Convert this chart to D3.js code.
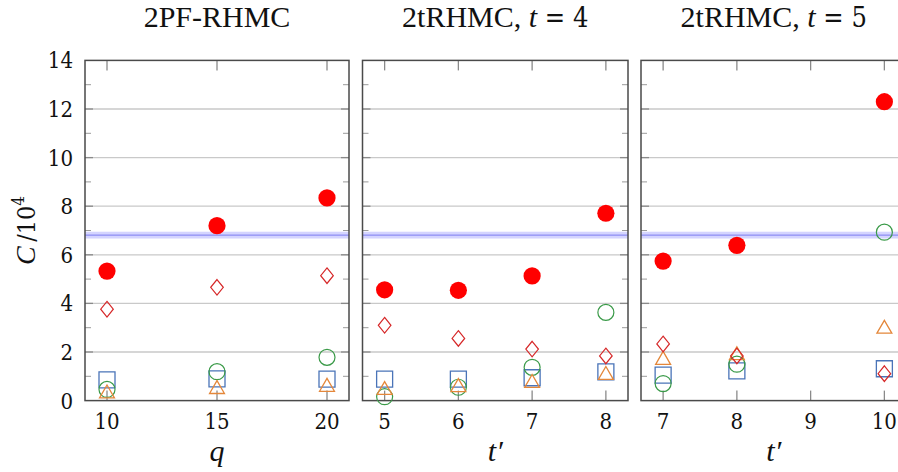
<!DOCTYPE html>
<html>
<head>
<meta charset="utf-8">
<script src="https://cdn.jsdelivr.net/npm/d3@7"></script>
<style>
  html, body { margin: 0; padding: 0; background: #fff; }
  svg { display: block; }
  .tick-label { font-family: 'DejaVu Serif Condensed', 'DejaVu Serif', serif; font-stretch: condensed; font-size: 22px; fill: #111; }
  .title { font-family: 'Liberation Serif', serif; font-size: 30px; fill: #111; }
  .math { font-family: 'DejaVu Serif Condensed', 'DejaVu Serif', serif; font-stretch: condensed; }
  .axis-title { font-family: 'Liberation Serif', serif; font-style: italic; font-size: 30px; fill: #111; }
</style>
</head>
<body>
<svg id="chart" width="898" height="472"></svg>
<script>
// ---- data -------------------------------------------------------------
const panelTitles = ["2PF-RHMC", "2tRHMC, t = 4", "2tRHMC, t = 5"];
const yTicks = [0, 2, 4, 6, 8, 10, 12, 14];

// 2PF-RHMC, as a function of q
const pfX        = [10, 15, 20];
const pfCost     = [5.33, 7.20, 8.34];
const pfDiamond  = [3.76, 4.66, 5.14];
const pfCircle   = [0.46, 1.19, 1.78];
const pfSquare   = [0.85, 0.89, 0.88];
const pfTriangle = [0.29, 0.47, 0.56];
const pfTicks    = [10, 15, 20];

// 2tRHMC with t = 4, as a function of t'
const t4X        = [5, 6, 7, 8];
const t4Cost     = [4.56, 4.54, 5.13, 7.71];
const t4Diamond  = [3.10, 2.56, 2.12, 1.84];
const t4Circle   = [0.16, 0.55, 1.37, 3.63];
const t4Square   = [0.88, 0.88, 0.94, 1.18];
const t4Triangle = [0.43, 0.55, 0.72, 1.05];
const t4Ticks    = [5, 6, 7, 8];

// 2tRHMC with t = 5, as a function of t'
const t5X        = [7, 8, 10];
const t5Cost     = [5.74, 6.39, 12.30];
const t5Diamond  = [2.33, 1.84, 1.11];
const t5Circle   = [0.70, 1.50, 6.93];
const t5Square   = [1.05, 1.22, 1.31];
const t5Triangle = [1.67, 1.86, 2.95];
const t5Ticks    = [7, 8, 9, 10];

// reference cost band (centre and half width)
const refCost = 6.81;
const refHalfWidth = 0.14;

// ---- layout -----------------------------------------------------------
const svg = d3.select("#chart");
const yTop = 60.4, yBottom = 400.6;
const y = d3.scaleLinear().domain([0, 14]).range([yBottom, yTop]);

const panels = [
  { title: panelTitles[0], left: 85,    right: 349, domain: [9, 21],     ticks: pfTicks, xLabel: "q",
    x: pfX, cost: pfCost, diamond: pfDiamond, circle: pfCircle, square: pfSquare, triangle: pfTriangle },
  { title: panelTitles[1], left: 362.5, right: 628, domain: [4.7, 8.3],  ticks: t4Ticks, xLabel: "t\u2032",
    x: t4X, cost: t4Cost, diamond: t4Diamond, circle: t4Circle, square: t4Square, triangle: t4Triangle },
  { title: panelTitles[2], left: 641,   right: 906.5, domain: [6.7, 10.3], ticks: t5Ticks, xLabel: "t\u2032",
    x: t5X, cost: t5Cost, diamond: t5Diamond, circle: t5Circle, square: t5Square, triangle: t5Triangle }
];

const colors = {
  cost: "#ff0000",
  diamond: "#d62728",
  circle: "#3a9a48",
  square: "#4a74b8",
  triangle: "#e4873a"
};

// marker shapes, centred on (0,0)
const shapes = {
  square: "M-8,-8H8V8H-8Z",
  triangle: (() => { const R = 8.6; return `M0,${-R}L${R*Math.sqrt(3)/2},${R/2}L${-R*Math.sqrt(3)/2},${R/2}Z`; })(),
  diamond: "M0,-7.8L6.3,0L0,7.8L-6.3,0Z"
};

panels.forEach((p, i) => {
  const x = d3.scaleLinear().domain(p.domain).range([p.left, p.right]);
  const g = svg.append("g");

  // horizontal grid lines
  g.selectAll("line.grid").data(yTicks.filter(v => v > 0 && v < 14)).join("line")
    .attr("x1", p.left).attr("x2", p.right)
    .attr("y1", d => y(d)).attr("y2", d => y(d))
    .attr("stroke", "#c9c9c9").attr("stroke-width", 1.3);

  // reference band
  g.append("rect")
    .attr("x", p.left).attr("width", p.right - p.left)
    .attr("y", y(refCost + refHalfWidth))
    .attr("height", y(refCost - refHalfWidth) - y(refCost + refHalfWidth))
    .attr("fill", "#d4d4ff");
  g.append("line")
    .attr("x1", p.left).attr("x2", p.right)
    .attr("y1", y(refCost)).attr("y2", y(refCost))
    .attr("stroke", "#7c7cf0").attr("stroke-width", 1);

  // y ticks (major on even values, minor on odd values), both sides
  const yMajor = yTicks.filter(v => v > 0 && v < 14);
  const yMinor = d3.range(1, 14, 2);
  [p.left, p.right].forEach((edge, k) => {
    const dir = k === 0 ? 1 : -1;
    g.selectAll(null).data(yMajor).join("line")
      .attr("x1", edge).attr("x2", edge + dir * 8)
      .attr("y1", d => y(d)).attr("y2", d => y(d))
      .attr("stroke", "#8a8a8a").attr("stroke-width", 1.3);
    g.selectAll(null).data(yMinor).join("line")
      .attr("x1", edge).attr("x2", edge + dir * 6)
      .attr("y1", d => y(d)).attr("y2", d => y(d))
      .attr("stroke", "#9a9a9a").attr("stroke-width", 1);
  });

  // x ticks top and bottom
  g.selectAll(null).data(p.ticks).join("line")
    .attr("x1", d => x(d)).attr("x2", d => x(d))
    .attr("y1", yTop).attr("y2", yTop + 10)
    .attr("stroke", "#8a8a8a").attr("stroke-width", 1.3);
  g.selectAll(null).data(p.ticks).join("line")
    .attr("x1", d => x(d)).attr("x2", d => x(d))
    .attr("y1", yBottom).attr("y2", yBottom - 10)
    .attr("stroke", "#8a8a8a").attr("stroke-width", 1.3);

  // frame
  g.append("rect")
    .attr("x", p.left).attr("y", yTop)
    .attr("width", p.right - p.left).attr("height", yBottom - yTop)
    .attr("fill", "none").attr("stroke", "#4a4a4a").attr("stroke-width", 1.5);

  // x tick labels
  g.selectAll(null).data(p.ticks).join("text")
    .attr("class", "tick-label")
    .attr("x", d => x(d)).attr("y", 429)
    .attr("text-anchor", "middle")
    .text(d => d);

  // x axis title
  g.append("text").attr("class", "axis-title")
    .attr("x", (p.left + Math.min(p.right, 906.5)) / 2 + (i === 0 ? 0 : 0))
    .attr("y", 461).attr("text-anchor", "middle")
    .text(p.xLabel);

  // panel title
  const t = g.append("text").attr("class", "title")
    .attr("x", (p.left + p.right) / 2).attr("y", 27).attr("text-anchor", "middle");
  if (i === 0) {
    t.text(p.title);
  } else {
    const parts = p.title.split("t = ");
    t.append("tspan").text(parts[0]);
    t.append("tspan").attr("font-style", "italic").text("t");
    t.append("tspan").attr("class", "math").attr("font-size", 27).text(" = " + parts[1]);
  }

  // markers
  const pts = key => p.x.map((xv, j) => ({ x: xv, v: p[key][j] }));

  g.selectAll(null).data(pts("square")).join("path")
    .attr("d", shapes.square)
    .attr("transform", d => `translate(${x(d.x)},${y(d.v)})`)
    .attr("fill", "none").attr("stroke", colors.square).attr("stroke-width", 1.3);

  g.selectAll(null).data(pts("circle")).join("circle")
    .attr("cx", d => x(d.x)).attr("cy", d => y(d.v)).attr("r", 8)
    .attr("fill", "none").attr("stroke", colors.circle).attr("stroke-width", 1.2);

  g.selectAll(null).data(pts("triangle")).join("path")
    .attr("d", shapes.triangle)
    .attr("transform", d => `translate(${x(d.x)},${y(d.v)})`)
    .attr("fill", "none").attr("stroke", colors.triangle).attr("stroke-width", 1.3);

  g.selectAll(null).data(pts("diamond")).join("path")
    .attr("d", shapes.diamond)
    .attr("transform", d => `translate(${x(d.x)},${y(d.v)})`)
    .attr("fill", "none").attr("stroke", colors.diamond).attr("stroke-width", 1.2);

  g.selectAll(null).data(pts("cost")).join("circle")
    .attr("cx", d => x(d.x)).attr("cy", d => y(d.v)).attr("r", 8.6)
    .attr("fill", colors.cost);
});

// y tick labels on the first panel
svg.selectAll("text.ylab").data(yTicks).join("text")
  .attr("class", "tick-label")
  .attr("x", 73).attr("y", d => y(d))
  .attr("dy", "0.36em")
  .attr("text-anchor", "end")
  .text(d => d);

// y axis title: C / 10^4
const yt = svg.append("text")
  .attr("transform", `translate(35,${(yTop + yBottom) / 2}) rotate(-90)`)
  .attr("text-anchor", "middle")
  .attr("class", "math")
  .attr("font-size", 25).attr("fill", "#111");
yt.append("tspan").attr("font-family", "Liberation Serif").attr("font-style", "italic").attr("font-size", 28).text("C");
yt.append("tspan").text("\u2009/10");
yt.append("tspan").attr("font-size", 17).attr("dy", -11).text("4");
</script>
</body>
</html>
